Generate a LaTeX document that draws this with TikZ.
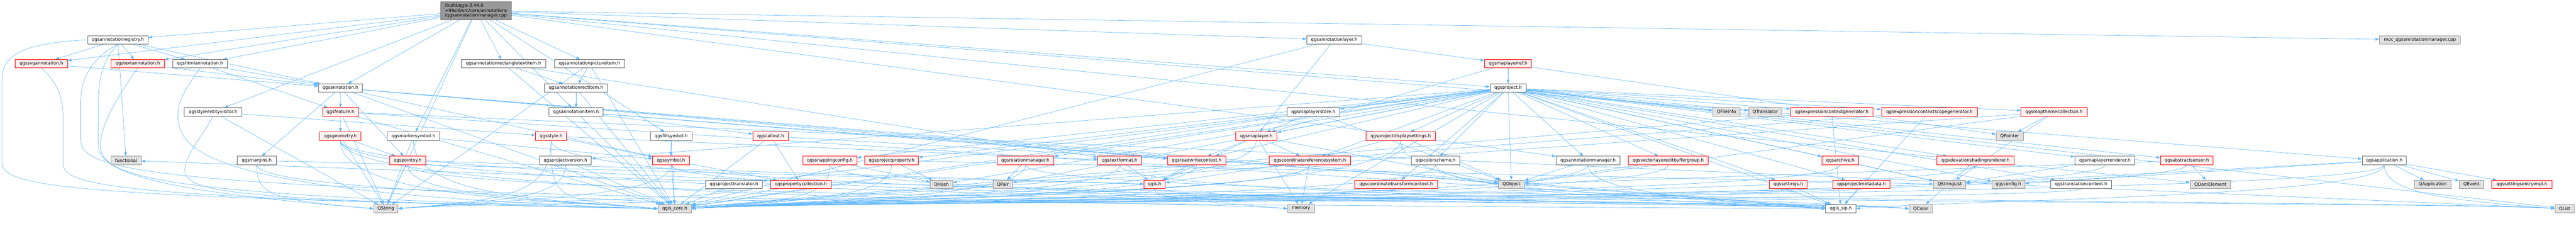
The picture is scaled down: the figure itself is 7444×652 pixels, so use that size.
\documentclass[tikz,border=0pt]{standalone}
\usepackage{fontspec}
\setmainfont{DejaVu Sans}
\usetikzlibrary{arrows.meta}
\pgfdeclarelayer{bg}
\pgfdeclarelayer{paper}
\pgfsetlayers{paper,bg,main}
\definecolor{edgec}{HTML}{63B8FF}
\definecolor{redb}{HTML}{FF0000}
\definecolor{redf}{HTML}{FFF0F0}
\definecolor{grayf}{HTML}{E0E0E0}
\definecolor{grayb}{HTML}{999999}
\definecolor{darkb}{HTML}{666666}
\definecolor{rootf}{HTML}{999999}
\newcommand\bandL[3]{\draw[e] (#1.south) .. controls (#1.south |- 0,#3) and +(300,-25) .. (#2.east);}
\newcommand\bandR[3]{\draw[e] (#1.south) .. controls (#1.south |- 0,#3) and +(-300,-25) .. (#2.west);}
\begin{document}
\begin{tikzpicture}[x=1pt,y=-1pt,
  base/.style={rectangle, line width=1.3pt, minimum height=24pt, inner xsep=0pt, inner ysep=0pt, font=\fontsize{12.7}{14}\selectfont},
  wn/.style={base, draw=darkb, fill=white},
  rn/.style={base, draw=redb, fill=redf},
  gn/.style={base, draw=grayb, fill=grayf},
  rootn/.style={base, draw=darkb, fill=rootf, align=left},
  e/.style={draw=edgec, line width=1pt, -{Triangle[length=11pt,width=8pt]}}]
\useasboundingbox (0,0) rectangle (7444,652);
\begin{pgfonlayer}{paper}
\fill[white] (0,0) rectangle (7444,652);
\end{pgfonlayer}
% root
\node[rootn, minimum width=203pt, minimum height=52pt] (root) at (1375.5,31) {/build/qgis-3.44.0\\+99sid/src/core/annotations\\/qgsannotationmanager.cpp};
% row 1
\node[wn, minimum width=175pt] (reg) at (340.5,115) {qgsannotationregistry.h};
\node[wn, minimum width=159pt] (alayer) at (3855.5,115) {qgsannotationlayer.h};
\node[gn, minimum width=234pt] (moc) at (6993,115) {moc\_qgsannotationmanager.cpp};
% row 2
\node[rn, minimum width=151pt] (svg) at (119.5,184) {qgssvgannotation.h};
\node[rn, minimum width=154pt] (txt) at (398,184) {qgstextannotation.h};
\node[wn, minimum width=158pt] (html) at (578,184) {qgshtmlannotation.h};
\node[wn, minimum width=244pt] (rtt) at (1455,184) {qgsannotationrectangletextitem.h};
\node[wn, minimum width=203pt] (pic) at (1703.5,184) {qgsannotationpictureitem.h};
\node[rn, minimum width=136pt] (mlref) at (4358,184) {qgsmaplayerref.h};
% row 3
\node[wn, minimum width=127pt] (annot) at (983.5,254) {qgsannotation.h};
\node[wn, minimum width=183pt] (rit) at (1664.5,254) {qgsannotationrectitem.h};
\node[wn, minimum width=104pt] (proj) at (4358,254) {qgsproject.h};
% row 4
\node[wn, minimum width=167pt] (sev) at (615.5,323) {qgsstyleentityvisitor.h};
\node[rn, minimum width=104pt] (feat) at (984,323) {qgsfeature.h};
\node[wn, minimum width=157pt] (ait) at (1664.5,323) {qgsannotationitem.h};
\node[wn, minimum width=152pt] (mls) at (3795,323) {qgsmaplayerstore.h};
\node[gn, minimum width=80pt] (qfi) at (4989,323) {QFileInfo};
\node[gn, minimum width=96pt] (qtr) at (5101,323) {QTranslator};
\node[rn, minimum width=238pt] (ecg) at (5293,323) {qgsexpressioncontextgenerator.h};
\node[rn, minimum width=277pt] (ecs) at (5575.5,323) {qgsexpressioncontextscopegenerator.h};
\node[rn, minimum width=191pt] (mtc) at (5935.5,323) {qgsmapthemecollection.h};
% row 5
\node[rn, minimum width=119pt] (geom) at (983.5,393) {qgsgeometry.h};
\node[wn, minimum width=151pt] (mark) at (1194.5,393) {qgsmarkersymbol.h};
\node[rn, minimum width=89pt] (sty) at (1592.5,393) {qgsstyle.h};
\node[wn, minimum width=121pt] (fill) at (1939.5,393) {qgsfillsymbol.h};
\node[rn, minimum width=102pt] (call) at (2227,393) {qgscallout.h};
\node[rn, minimum width=119pt] (ml) at (3630.5,393) {qgsmaplayer.h};
\node[rn, minimum width=201pt] (pds) at (4047.5,393) {qgsprojectdisplaysettings.h};
\node[gn, minimum width=79pt] (qptr) at (5807.5,393) {QPointer};
% row 6
\node[gn, minimum width=87pt] (func) at (364.5,463) {functional};
\node[wn, minimum width=112pt] (marg) at (742,463) {qgsmargins.h};
\node[rn, minimum width=104pt] (pxy) at (1178,463) {qgspointxy.h};
\node[wn, minimum width=150pt] (pver) at (1634,463) {qgsprojectversion.h};
\node[rn, minimum width=106pt] (sym) at (1939,463) {qgssymbol.h};
\node[rn, minimum width=156pt] (snap) at (2398,463) {qgssnappingconfig.h};
\node[rn, minimum width=155pt] (pprop) at (2576.5,463) {qgsprojectproperty.h};
\node[rn, minimum width=164pt] (relm) at (2963,463) {qgsrelationmanager.h};
\node[rn, minimum width=127pt] (tf) at (3235.5,463) {qgstextformat.h};
\node[rn, minimum width=168pt] (rwc) at (3458,463) {qgsreadwritecontext.h};
\node[rn, minimum width=236pt] (crs) at (3785,463) {qgscoordinatereferencesystem.h};
\node[wn, minimum width=141pt] (csch) at (4148.5,463) {qgscolorscheme.h};
\node[wn, minimum width=184pt] (amh) at (4589,463) {qgsannotationmanager.h};
\node[rn, minimum width=231pt] (vleb) at (4820.5,463) {qgsvectorlayereditbuffergroup.h};
\node[rn, minimum width=106pt] (arch) at (5318,463) {qgsarchive.h};
\node[rn, minimum width=223pt] (elev) at (5708.5,463) {qgselevationshadingrenderer.h};
\node[wn, minimum width=173pt] (mlr) at (6082.5,463) {qgsmaplayerrenderer.h};
\node[rn, minimum width=152pt] (sens) at (6319,463) {qgsabstractsensor.h};
\node[wn, minimum width=128pt] (app) at (6890,463) {qgsapplication.h};
% row 7
\node[wn, minimum width=164pt] (ptr) at (2121,532) {qgsprojecttranslator.h};
\node[rn, minimum width=175pt] (pcol) at (2314.5,532) {qgspropertycollection.h};
\node[gn, minimum width=65pt] (qhash) at (2720.5,532) {QHash};
\node[gn, minimum width=56pt] (qpair) at (2898,532) {QPair};
\node[rn, minimum width=61pt] (qgis) at (3336.5,532) {qgis.h};
\node[rn, minimum width=239pt] (ctc) at (4034.5,532) {qgscoordinatetransformcontext.h};
\node[gn, minimum width=75pt] (qobj) at (4367.5,532) {QObject};
\node[rn, minimum width=109pt] (sett) at (5167.5,532) {qgssettings.h};
\node[rn, minimum width=166pt] (pmeta) at (5379,532) {qgsprojectmetadata.h};
\node[gn, minimum width=94pt] (qsl) at (5634,532) {QStringList};
\node[gn, minimum width=95pt] (qcfg) at (5803.5,532) {qgsconfig.h};
\node[wn, minimum width=176pt] (tctx) at (6014,532) {qgstranslationcontext.h};
\node[gn, minimum width=117pt] (qdom) at (6387.5,532) {QDomElement};
\node[gn, minimum width=106pt] (qapp) at (7030,532) {QApplication};
\node[gn, minimum width=70pt] (qevt) at (7142,532) {QEvent};
\node[rn, minimum width=173pt] (sei) at (7287.5,532) {qgssettingsentryimpl.h};
% row 8
\node[gn, minimum width=70pt] (qstr) at (1115,602) {QString};
\node[gn, minimum width=96pt] (qcore) at (1950,602) {qgis\_core.h};
\node[gn, minimum width=77pt] (mem) at (3759.5,602) {memory};
\node[wn, minimum width=87pt] (qsip) at (5319.5,602) {qgis\_sip.h};
\node[gn, minimum width=67pt] (qcol) at (5550.5,602) {QColor};
\node[gn, minimum width=56pt] (qlist) at (7411,602) {QList};
\begin{pgfonlayer}{bg}
\foreach \t in {reg,svg,txt,html,annot,sev,mark,fill,rtt,pic,ait,alayer,proj,amh,app,moc,qdom,qstr} \draw[e] (root) -- (\t);
\foreach \t in {svg,txt,html,annot,func} \draw[e] (reg) -- (\t);
% curved edges on the left side
\draw[e] (reg.west) .. controls (60,125) and (6,160) .. (6,230) -- (6,470) .. controls (6,545) and (250,568) .. (qcore.west);
\draw[e] (reg.south) .. controls (260,170) and (233,230) .. (233,300) -- (233,400) .. controls (233,520) and (500,578) .. (qsip.west);
\draw[e] (reg.south) .. controls (300,170) and (284,220) .. (284,300) -- (284,420) .. controls (284,520) and (600,562) .. (qstr.west);
\draw[e] (svg.south) .. controls (170,240) and (182,290) .. (182,330) -- (182,470) .. controls (182,535) and (300,572) .. (qcore.west);
\draw[e] (txt.south) .. controls (360,250) and (290,350) .. (290,420) .. controls (290,520) and (500,566) .. (qcore.west);
\draw[e] (html.south) .. controls (540,250) and (514,290) .. (514,330) .. controls (514,440) and (600,560) .. (qcore.west);
\draw[e] (sev.south) .. controls (580,400) and (534,450) .. (534,490) .. controls (534,560) and (700,578) .. (qcore.west);
\draw[e] (svg) -- (annot);
\draw[e] (txt) -- (annot);
\foreach \t in {annot,feat} \draw[e] (html) -- (\t);
\foreach \t in {sty,qstr} \draw[e] (sev) -- (\t);
\foreach \t in {feat,marg,pxy,sym,qobj,rwc,qcore,qsip} \draw[e] (annot) -- (\t);
\foreach \t in {geom,qcore,qsip,qstr,qlist} \draw[e] (feat) -- (\t);
\foreach \t in {pxy,qstr} \draw[e] (geom) -- (\t);
\foreach \t in {sym,qstr} \draw[e] (mark) -- (\t);
\draw[e] (marg) -- (qgis);
\foreach \t in {qgis,qstr} \draw[e] (pxy) -- (\t);
\foreach \t in {rit,tf,qcore} \draw[e] (rtt) -- (\t);
\foreach \t in {rit,qcore,qstr} \draw[e] (pic) -- (\t);
\foreach \t in {ait,qcore} \draw[e] (rit) -- (\t);
\foreach \t in {call,rwc,qcore,qsip} \draw[e] (ait) -- (\t);
\foreach \t in {sym,tf} \draw[e] (sty) -- (\t);
\foreach \t in {sym,qcore} \draw[e] (fill) -- (\t);
\foreach \t in {pcol,qcore} \draw[e] (sym) -- (\t);
\foreach \t in {pcol,rwc,qcore} \draw[e] (call) -- (\t);
\foreach \t in {func,qcore} \draw[e] (pcol) -- (\t);
\draw[e] (pver) -- (qcore);
\draw[e] (ptr) -- (qcore);
\draw[e] (snap) -- (qhash);
\foreach \t in {qhash,qsl} \draw[e] (pprop) -- (\t);
\draw[e] (relm) -- (qpair);
\draw[e] (tf) -- (qgis);
\draw[e] (rwc) -- (qgis);
\foreach \t in {qgis,mem} \draw[e] (crs) -- (\t);
\foreach \t in {rwc,qgis,crs,qobj,mem} \draw[e] (ml) -- (\t);
\foreach \t in {mlref,ml,qcore} \draw[e] (alayer) -- (\t);
\foreach \t in {proj,ml,qptr} \draw[e] (mlref) -- (\t);
\foreach \t in {mls,qfi,qtr,ecg,ecs,mtc,pds,csch,amh,vleb,arch,sett,pmeta,qsl,qcfg,tctx,elev,sens,mlr,qobj,qpair,crs,ctc,snap,pprop,relm,ptr,pver,rwc,ml,qhash,qcore,qsip,mem,qlist} \draw[e] (proj) -- (\t);
\foreach \t in {ml,qobj,qcore} \draw[e] (mls) -- (\t);
\foreach \t in {crs,qobj} \draw[e] (pds) -- (\t);
\draw[e] (amh) -- (qobj);
\draw[e] (vleb) -- (qobj);
\draw[e] (arch) -- (qsl);
\foreach \t in {qptr,qsl,qobj,qcore} \draw[e] (mtc) -- (\t);
\foreach \t in {qcore,qsip} \draw[e] (ecg) -- (\t);
\foreach \t in {qcore,qsip} \draw[e] (ecs) -- (\t);
\draw[e] (elev) -- (qcol);
\draw[e] (mlr) -- (qsl);
\foreach \t in {qdom,qobj} \draw[e] (sens) -- (\t);
\foreach \t in {qapp,qevt,sei,qsl,qcfg} \draw[e] (app) -- (\t);
\draw[e] (sett) -- (qsip);
\draw[e] (pmeta) -- (qsip);
% long edges through the bottom band
\bandR{geom}{qcore}{575}
\bandR{geom}{qsip}{582}
\bandR{geom}{qlist}{586}
\bandR{geom}{mem}{579}
\bandR{mark}{qcore}{570}
\bandL{marg}{qcore}{566}
\bandR{marg}{qstr}{560}
\bandR{pxy}{qcore}{568}
\bandR{pxy}{qsip}{584}
\bandR{sty}{qcore}{572}
\bandL{sty}{qstr}{564}
\bandR{sty}{qcol}{580}
\bandL{sym}{qstr}{570}
\bandR{sym}{qcol}{577}
\bandL{pver}{qstr}{574}
\bandL{ptr}{qstr}{578}
\bandL{snap}{qcore}{568}
\bandR{snap}{qsip}{576}
\bandL{pprop}{qcore}{572}
\bandL{relm}{qcore}{575}
\bandR{relm}{qlist}{583}
\bandL{tf}{qcore}{566}
\bandR{tf}{qcol}{571}
\bandL{rwc}{qcore}{578}
\bandL{crs}{qcore}{561}
\bandL{crs}{qstr}{584}
\bandL{ml}{qcore}{565}
\bandL{pds}{qcore}{569}
\bandR{pds}{qsip}{580}
\bandL{csch}{qcore}{574}
\bandR{csch}{qcol}{566}
\bandL{amh}{qcore}{582}
\bandR{amh}{qsip}{562}
\bandL{vleb}{qcore}{577}
\bandL{arch}{qcore}{571}
\bandL{sett}{qcore}{585}
\bandL{pmeta}{qcore}{563}
\bandL{elev}{qcore}{567}
\bandL{mlr}{qcore}{579}
\bandL{sens}{qcore}{573}
\bandL{app}{qcore}{576}
\bandL{app}{qsip}{568}
\bandR{app}{qlist}{560}
\bandL{tctx}{qcore}{581}
\bandL{ctc}{qcore}{564}
\bandR{qgis}{mem}{570}
\bandL{qgis}{qcore}{586}
\bandR{qgis}{qsip}{574}
\end{pgfonlayer}
\end{tikzpicture}
\end{document}
